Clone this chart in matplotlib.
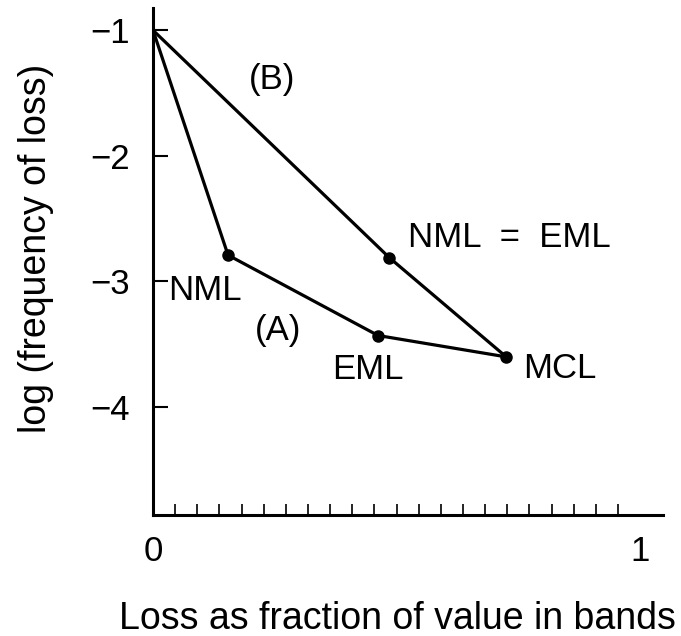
import matplotlib
matplotlib.use("Agg")
import matplotlib.pyplot as plt
import numpy as np

plt.rcParams['font.family'] = ['Liberation Sans', 'DejaVu Sans']

# Curve A: origin -> NML -> EML -> MCL
a_x = [0.0, 0.154, 0.462, 0.725]
a_y = [-1.0, -2.79, -3.43, -3.60]
# Curve B: origin -> NML=EML -> MCL
b_x = [0.0, 0.485, 0.725]
b_y = [-1.0, -2.81, -3.60]

y_ticks = [-1, -2, -3, -4]
y_tick_labels = ["\u22121", "\u22122", "\u22123", "\u22124"]
x_ticks = [0, 1]
x_tick_labels = ["0", "1"]
x_minor = [i / 22 for i in range(1, 23)]

fig = plt.figure(figsize=(6.81, 6.36), dpi=100)
ax = fig.add_axes([0.2247, 0.190, 0.749, 0.797])

lw = 2.3
ax.plot(a_x, a_y, color='black', lw=lw, solid_capstyle='round')
ax.plot(b_x, b_y, color='black', lw=lw, solid_capstyle='round')
ax.plot(a_x[1:], a_y[1:], 'o', color='black', ms=8)
ax.plot(b_x[1:2], b_y[1:2], 'o', color='black', ms=8)

ax.set_xlim(0, 1.047)
ax.set_ylim(-4.86, -0.825)

for s in ['top', 'right']:
    ax.spines[s].set_visible(False)
for s in ['left', 'bottom']:
    ax.spines[s].set_linewidth(2.2)

fs = 25
lfs = 27
ax.set_yticks(y_ticks)
ax.set_yticklabels(y_tick_labels, fontsize=fs)
ax.tick_params(axis='y', direction='in', length=11, width=1.5, pad=17)
ax.set_xticks(x_ticks)
ax.set_xticklabels(x_tick_labels, fontsize=fs)
ax.tick_params(axis='x', which='major', direction='in', length=0, pad=14)
ax.set_xticks(x_minor, minor=True)
ax.tick_params(axis='x', which='minor', direction='in', length=8, width=1.2)

ax.set_xlabel("Loss as fraction of value in bands", fontsize=lfs)
ax.set_ylabel("log (frequency of loss)", fontsize=lfs)
ax.xaxis.set_label_coords(0.479, -0.170)
ax.yaxis.set_label_coords(-0.194, 0.527)

ax.text(0.244, -1.39, "(B)", fontsize=fs, ha='center', va='center')
ax.text(0.107, -3.07, "NML", fontsize=fs, ha='center', va='center')
ax.text(0.256, -3.39, "(A)", fontsize=fs, ha='center', va='center')
ax.text(0.441, -3.70, "EML", fontsize=fs, ha='center', va='center')
ax.text(0.524, -2.65, "NML  =  EML", fontsize=fs, ha='left', va='center')
ax.text(0.760, -3.69, "MCL", fontsize=fs, ha='left', va='center')

fig.savefig("out.png", dpi=100)
